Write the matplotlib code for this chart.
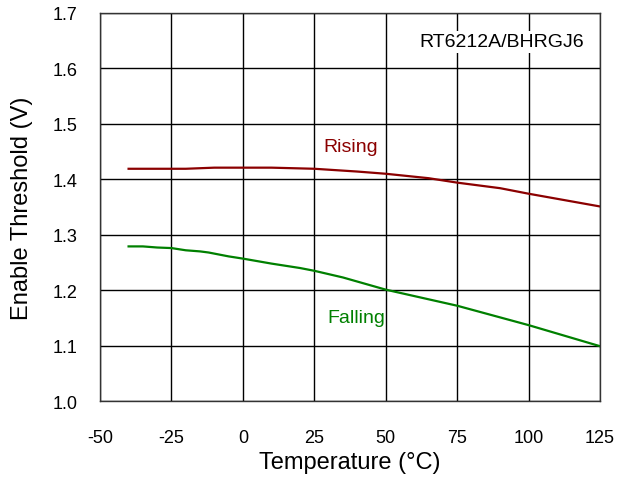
import matplotlib.pyplot as plt

plt.rcParams['font.family'] = ['Liberation Sans', 'DejaVu Sans']
plt.rcParams['axes.unicode_minus'] = False

# data
temp_rising = [-40, -30, -20, -15, -10, 0, 10, 25, 40, 50, 65, 75, 90, 100, 125]
v_rising = [1.419, 1.419, 1.419, 1.420, 1.421, 1.421, 1.421, 1.419, 1.414, 1.410, 1.402, 1.394, 1.384, 1.374, 1.351]

temp_falling = [-40, -35, -30, -25, -20, -15, -12, -5, 0, 10, 20, 25, 35, 50, 75, 100, 125]
v_falling = [1.279, 1.279, 1.277, 1.276, 1.272, 1.270, 1.268, 1.261, 1.257, 1.248, 1.240, 1.235, 1.223, 1.201, 1.172, 1.137, 1.099]

xticks = [-50, -25, 0, 25, 50, 75, 100, 125]
yticks = [1.0, 1.1, 1.2, 1.3, 1.4, 1.5, 1.6, 1.7]

fig = plt.figure(figsize=(6.33, 4.81), dpi=100)
ax = fig.add_axes([0.158, 0.164, 0.790, 0.807])

ax.plot(temp_rising, v_rising, color='#8b0000', lw=1.6)
ax.plot(temp_falling, v_falling, color='#008000', lw=1.6)

ax.set_xlim(-50, 125)
ax.set_ylim(1.0, 1.7)
ax.set_xticks(xticks)
ax.set_yticks(yticks)
ax.set_yticklabels([f'{t:.1f}' for t in yticks])
ax.grid(True, color='black', lw=1)
ax.tick_params(length=0, labelsize=13)
ax.tick_params(axis='x', pad=20)
ax.tick_params(axis='y', pad=16)
for s in ax.spines.values():
    s.set_color('#333333')
    s.set_linewidth(1)

ax.set_xlabel('Temperature (°C)', fontsize=17)
ax.set_ylabel('Enable Threshold (V)', fontsize=17)
ax.xaxis.set_label_coords(0.5, -0.128)
ax.yaxis.set_label_coords(-0.134, 0.5)

ax.text(37.8, 1.459, 'Rising', color='#8b0000', fontsize=14, ha='center', va='center')
ax.text(39.6, 1.150, 'Falling', color='#008000', fontsize=14, ha='center', va='center')
ax.text(90.7, 1.648, 'RT6212A/BHRGJ6', fontsize=14, ha='center', va='center',
        bbox=dict(facecolor='white', edgecolor='none', pad=2))

fig.savefig('out.png', dpi=100)
